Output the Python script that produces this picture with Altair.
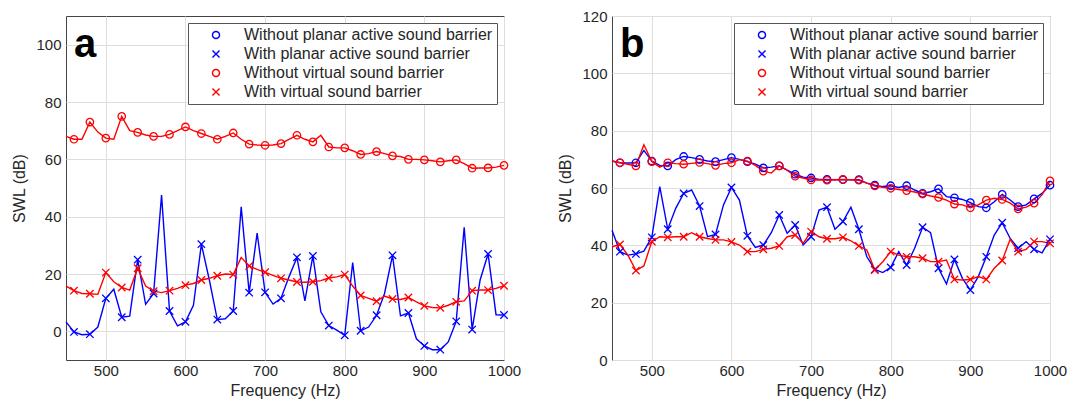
import altair as alt
import pandas as pd

freq = list(range(450, 1001, 10))

SERIES = [
    "Without planar active sound barrier",
    "With planar active sound barrier",
    "Without virtual sound barrier",
    "With virtual sound barrier",
]

# Panel a
a_without_virtual = [68, 67, 67, 73, 69.5, 67.4, 67, 75, 70, 69.4,
                     68.5, 68, 68, 68.7, 70, 71.3, 70, 69, 68, 67,
                     68, 69.2, 67, 65.3, 65, 64.9, 65, 65.5, 67, 68.4,
                     67, 66.1, 68.4, 64.3, 64, 64, 63, 61.7, 62, 62.7,
                     62, 61.2, 61, 60, 60, 59.8, 59.5, 59.1, 59.5, 59.8,
                     58.5, 56.9, 57, 57, 57.3, 57.9]
a_with_planar = [3.3, -0.2, -1.2, -1, 1.5, 11.5, 14.7, 4.9, 5.3, 25,
                 9.4, 13.2, 47.5, 7.1, 1.9, 3.3, 9.1, 30.4, 17.9, 4.1,
                 4.4, 7.1, 43.4, 13.5, 34.3, 13.6, 9.5, 11.5, 19, 25.8,
                 10.6, 26.3, 6.8, 2, 0.4, -1.4, 24, 0.2, 1.5, 5.6,
                 13.2, 26.5, 5.4, 6.4, -2.6, -5.1, -6.4, -6.4, -3.7, 3.5,
                 36.3, 0.6, 17.9, 27, 5.8, 5.7]
a_with_virtual = [15.8, 14.2, 13.2, 13.1, 12.9, 20.5, 17.3, 15.3, 14.4, 22,
                  15.8, 14, 13.5, 14.2, 15, 16.1, 16.7, 17.9, 18.5, 19.4,
                  20, 19.8, 25.8, 22.8, 21.6, 20.6, 19.5, 18.5, 17.9, 17.2,
                  17.1, 17.3, 17.7, 18.6, 19, 19.8, 15.8, 12.5, 11.5, 10.5,
                  12.3, 11.3, 11.1, 11.8, 10.3, 8.9, 8.3, 8.2, 9.1, 10.3,
                  10.6, 14.2, 14.4, 14.4, 15, 15.9]

# Panel b
b_without_planar = [69.4, 68.8, 68.7, 68.8, 73.1, 69.4, 67.9, 67.7, 69.9, 71,
                    70.6, 70, 69.4, 69.2, 69.9, 70.6, 70, 69.2, 68.3, 67,
                    67.3, 67.7, 66.2, 64.8, 63.8, 63.5, 63, 63, 62.9, 62.9,
                    62.9, 62.9, 61.7, 61, 60.5, 60.8, 60.2, 60.8, 59.3, 58.1,
                    58.7, 59.7, 57, 56.6, 56, 54.9, 53.5, 53.1, 55.2, 57.8,
                    55.8, 53.5, 54.1, 56.2, 58.1, 61]
b_with_planar = [45.3, 37.8, 36.6, 37, 38, 42.8, 60.5, 45.6, 52.9, 58.1,
                 59.3, 53.7, 43, 43.8, 54.1, 60.2, 55.8, 43.3, 39.3, 40.1,
                 44.4, 50.6, 44.2, 47.1, 40.1, 43, 52.3, 53.3, 45.6, 48.3,
                 53.3, 45.6, 36, 31.6, 30.5, 32.3, 37.8, 33.1, 39, 46.3,
                 44.4, 32, 26.5, 35.1, 28.5, 24.4, 29.1, 36, 43.6, 47.9,
                 42.4, 39, 41.3, 38.6, 37.4, 42.1]
b_without_virtual = [69.4, 68.8, 68.3, 67.7, 75.1, 69.2, 67.3, 68.8, 68.5, 68.3,
                     68.6, 68.9, 68.5, 67.9, 68.5, 68.8, 69.9, 69.4, 67.9, 65.9,
                     65.2, 67.7, 66.2, 64.1, 63.5, 62.8, 62.9, 62.7, 62.9, 63,
                     62.9, 62.7, 61.7, 60.7, 60.2, 59.9, 59.5, 59.1, 58.6, 57.9,
                     57.2, 56.7, 55.8, 54.4, 54.1, 53.1, 54.1, 55.8, 56.4, 56,
                     54.7, 52.7, 53.3, 54.7, 57.6, 62.5]
b_with_virtual = [39.5, 40.3, 36.6, 31.2, 32.8, 41.3, 43, 42.8, 43, 43,
                  44.4, 43, 42.4, 41.9, 41.9, 41.2, 40.1, 37.8, 37.8, 38.6,
                  39, 39.8, 43, 43.6, 40.7, 44.8, 43, 42.3, 42.3, 42.8,
                  41.6, 39.8, 38.4, 31.4, 34.3, 37.8, 36.6, 36, 36, 35.5,
                  34.3, 34.3, 34.9, 28.1, 27.9, 28.1, 29.1, 28.1, 32, 34.7,
                  42.1, 37.8, 38.6, 41.3, 41.3, 40.7]

panels = {
    "a": {SERIES[2]: a_without_virtual, SERIES[1]: a_with_planar, SERIES[3]: a_with_virtual},
    "b": {SERIES[0]: b_without_planar, SERIES[2]: b_without_virtual,
          SERIES[1]: b_with_planar, SERIES[3]: b_with_virtual},
}
y_domains = {"a": [-10, 110], "b": [0, 120]}
y_ticks = {"a": [0, 20, 40, 60, 80, 100], "b": [0, 20, 40, 60, 80, 100, 120]}
x_ticks = [500, 600, 700, 800, 900, 1000]

XPATH = "M-1,-1L1,1M-1,1L1,-1"
COLORS = ["#0000ff", "#0000ff", "#ff0000", "#ff0000"]
SHAPES = ["circle", XPATH, "circle", XPATH]

FONT = "Liberation Sans"
TXT = "#262626"

LEG = alt.Legend(
    title=None, orient="top-right", offset=7, padding=4, strokeColor="#555555", fillColor="white",
    labelFont=FONT, labelFontSize=16, labelColor=TXT, symbolSize=50, symbolStrokeWidth=1.4,
    symbolOffset=16, labelOffset=20, rowPadding=3, labelLimit=400, cornerRadius=0,
)


def make_panel(key):
    rows = []
    for name, vals in panels[key].items():
        for f, v in zip(freq, vals):
            rows.append({"freq": f, "swl": v, "series": name, "marker": (f % 20 == 0 and f > 450)})
    df = pd.DataFrame(rows)
    x = alt.X("freq:Q", scale=alt.Scale(domain=[450, 1000], nice=False, zero=False),
              axis=alt.Axis(values=x_ticks, title="Frequency (Hz)", format="d"))
    y = alt.Y("swl:Q", scale=alt.Scale(domain=y_domains[key], nice=False, zero=False),
              axis=alt.Axis(values=y_ticks[key], title="SWL (dB)"))
    base = alt.Chart(df)
    # reversed domain order keeps the line scale's legend separate from the marker legend
    lines = base.mark_line(strokeWidth=1.4).encode(
        x=x, y=y,
        stroke=alt.Stroke("series:N", scale=alt.Scale(domain=SERIES[::-1], range=COLORS[::-1]),
                          legend=None),
        detail="series:N",
    )
    points = base.transform_filter("datum.marker").mark_point(
        filled=False, size=55, strokeWidth=1.3, opacity=1
    ).encode(
        x=x, y=y,
        color=alt.Color("series:N", scale=alt.Scale(domain=SERIES, range=COLORS), legend=LEG),
        shape=alt.Shape("series:N", scale=alt.Scale(domain=SERIES, range=SHAPES), legend=LEG),
    )
    label = alt.Chart(pd.DataFrame({"t": [key]})).mark_text(
        fontSize=40, fontWeight="bold", font=FONT, align="left", baseline="alphabetic", color="black"
    ).encode(text="t:N", x=alt.value(8), y=alt.value(41))
    return alt.layer(lines, points, label).properties(width=438, height=344)


chart = alt.hconcat(make_panel("a"), make_panel("b"), spacing=108, bounds="flush").resolve_scale(
    color="independent", shape="independent", stroke="independent"
).properties(
    padding={"left": 3, "top": 0, "right": 0, "bottom": 0}
).configure(
    font=FONT,
).configure_view(
    stroke="#444444", strokeWidth=1
).configure_axis(
    grid=True, gridColor="#dedede", gridWidth=1, domain=False, ticks=False, labelFlush=False,
    labelFont=FONT, labelFontSize=15, labelColor=TXT, labelPadding=5,
    titleFont=FONT, titleFontSize=16, titleFontWeight="normal", titleColor=TXT,
).configure_axisX(
    labelPadding=3, titlePadding=4,
).configure_axisY(
    titlePadding=8,
)

chart.save("out.html", embed_options={"renderer": "svg", "actions": False})
